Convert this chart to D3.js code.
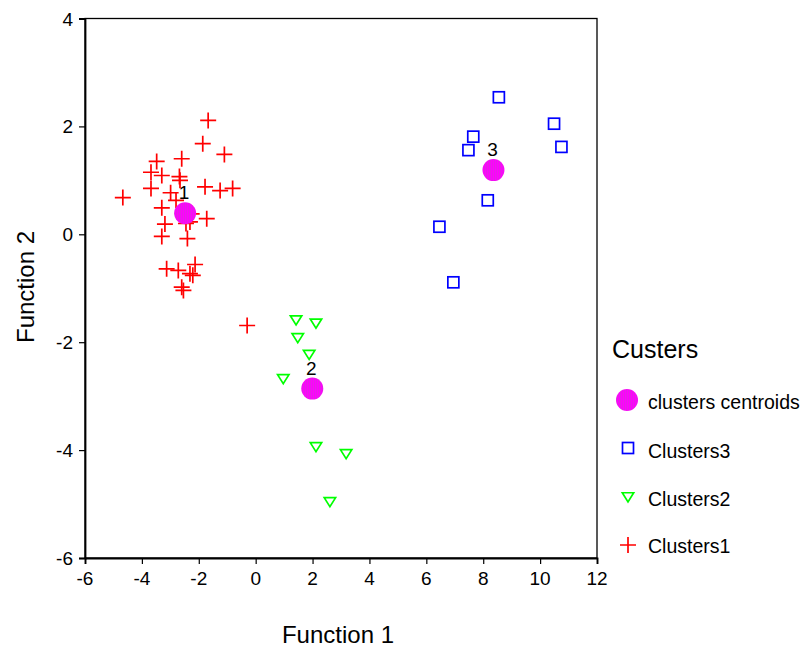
<!DOCTYPE html>
<html><head><meta charset="utf-8">
<script src="https://d3js.org/d3.v7.min.js"></script>
<style>body{margin:0;background:#fff}svg{display:block;font-family:"Liberation Sans",Arial,sans-serif}</style>
</head><body>
<svg id="c" width="806" height="648"></svg>
<script>
const cluster1X = [-1.67,-1.86,-1.10,-3.48,-2.60,-3.68,-3.30,-2.68,-2.66,-3.68,-1.78,-1.25,-0.81,-4.67,-2.99,-2.80,-3.30,-2.25,-1.72,-3.19,-2.45,-2.31,-3.30,-2.40,-3.13,-2.72,-2.13,-2.21,-2.31,-2.60,-2.54,-0.30];
const cluster1Y = [2.11,1.68,1.48,1.35,1.40,1.15,1.09,1.07,1.00,0.85,0.88,0.81,0.85,0.68,0.77,0.63,0.49,0.38,0.29,0.19,0.20,0.23,-0.04,-0.08,-0.64,-0.67,-0.56,-0.76,-0.73,-0.98,-1.04,-1.69];
const cluster2X = [1.42,2.12,1.48,1.88,0.97,2.12,3.18,2.61];
const cluster2Y = [-1.59,-1.65,-1.92,-2.23,-2.68,-3.94,-4.07,-4.96];
const cluster3X = [8.55,10.49,10.75,7.65,7.48,8.16,6.46,6.95];
const cluster3Y = [2.54,2.05,1.62,1.81,1.56,0.63,0.14,-0.89];
const centroidX = [-2.48,1.99,8.36];
const centroidY = [0.39,-2.86,1.19];
const centroidLabels = ["1","2","3"];
const xTicks = [-6,-4,-2,0,2,4,6,8,10,12];
const yTicks = [-6,-4,-2,0,2,4];
const legendLabels = ["clusters centroids","Clusters3","Clusters2","Clusters1"];

const svg = d3.select("#c");
const L=85,R=597,T=18.5,B=558;
const x = d3.scaleLinear().domain([-6,12]).range([L,R]);
const y = d3.scaleLinear().domain([-6,4]).range([B,T]);

const defs = svg.append("defs");
const pat = defs.append("pattern").attr("id","stripe").attr("patternUnits","userSpaceOnUse").attr("width",2).attr("height",4);
pat.append("rect").attr("width",2).attr("height",4).attr("fill","#ff00ff");
pat.append("rect").attr("width",1).attr("height",4).attr("fill","#e61ee6");

svg.append("rect").attr("x",L).attr("y",T).attr("width",R-L).attr("height",B-T)
  .attr("fill","none").attr("stroke","#000").attr("stroke-width",1.3);

// axis lines and ticks
const fmt = d=>d<0?"-"+Math.abs(d):String(d);
const xa = svg.append("g").attr("transform",`translate(0,${B})`)
  .call(d3.axisBottom(x).tickValues(xTicks).tickSize(6).tickFormat(""));
const ya = svg.append("g").attr("transform",`translate(${L},0)`)
  .call(d3.axisLeft(y).tickValues(yTicks).tickSize(6).tickFormat(""));
[xa,ya].forEach(a=>{
  a.select(".domain").attr("stroke","#000").attr("stroke-width",1.8);
  a.selectAll(".tick line").attr("stroke","#000").attr("stroke-width",1.2);
});
// tick labels drawn as plain texts from the same scales
svg.append("g").selectAll("text").data(xTicks).join("text")
  .attr("x",d=>x(d)).attr("y",585).attr("text-anchor","middle")
  .attr("font-size","19px").attr("fill","#000").text(fmt);
svg.append("g").selectAll("text").data(yTicks).join("text")
  .attr("x",L-12).attr("y",d=>y(d)+7).attr("text-anchor","end")
  .attr("font-size","19px").attr("fill","#000").text(fmt);

svg.append("text").attr("x",338).attr("y",643).attr("text-anchor","middle").attr("font-size",24).text("Function 1");
svg.append("text").attr("transform","translate(34,287) rotate(-90)").attr("text-anchor","middle").attr("font-size",24).text("Function 2");

const g = svg.append("g");
function cross(sel,cx,cy,s){ sel.append("path").attr("d",`M${cx-s},${cy}H${cx+s}M${cx},${cy-s}V${cy+s}`).attr("stroke","#ff0000").attr("stroke-width",1.7).attr("fill","none"); }
function square(sel,cx,cy,s){ sel.append("rect").attr("x",cx-s).attr("y",cy-s).attr("width",2*s).attr("height",2*s).attr("fill","none").attr("stroke","#0000ff").attr("stroke-width",1.7); }
function tri(sel,cx,cy,s){ sel.append("path").attr("d",`M${cx-s},${cy-s*0.75}L${cx+s},${cy-s*0.75}L${cx},${cy+s*0.85}Z`).attr("fill","none").attr("stroke","#00ff00").attr("stroke-width",1.7); }
function cent(sel,cx,cy,r){ sel.append("circle").attr("cx",cx).attr("cy",cy).attr("r",r).attr("fill","url(#stripe)"); }

cluster1X.forEach((v,i)=>cross(g,x(v),y(cluster1Y[i]),8));
cluster2X.forEach((v,i)=>tri(g,x(v),y(cluster2Y[i]),5.7));
cluster3X.forEach((v,i)=>square(g,x(v),y(cluster3Y[i]),5.5));
centroidX.forEach((v,i)=>{
  cent(g,x(v),y(centroidY[i]),11);
  g.append("text").attr("x",x(v)-1).attr("y",y(centroidY[i])-14).attr("text-anchor","middle").attr("font-size","19px").text(centroidLabels[i]);
});

svg.append("text").attr("x",612).attr("y",358).attr("font-size",25).text("Custers");
const ly = [400,448,497,545];
const lb = [409,458,506,553];
legendLabels.forEach((t,i)=>{
  svg.append("text").attr("x",648).attr("y",lb[i]).attr("font-size",19.5).text(t);
});
cent(svg,627,ly[0],11);
square(svg,628,ly[1],5.5);
tri(svg,628,ly[2],5.7);
cross(svg,628,ly[3],8);
</script>
</body></html>
